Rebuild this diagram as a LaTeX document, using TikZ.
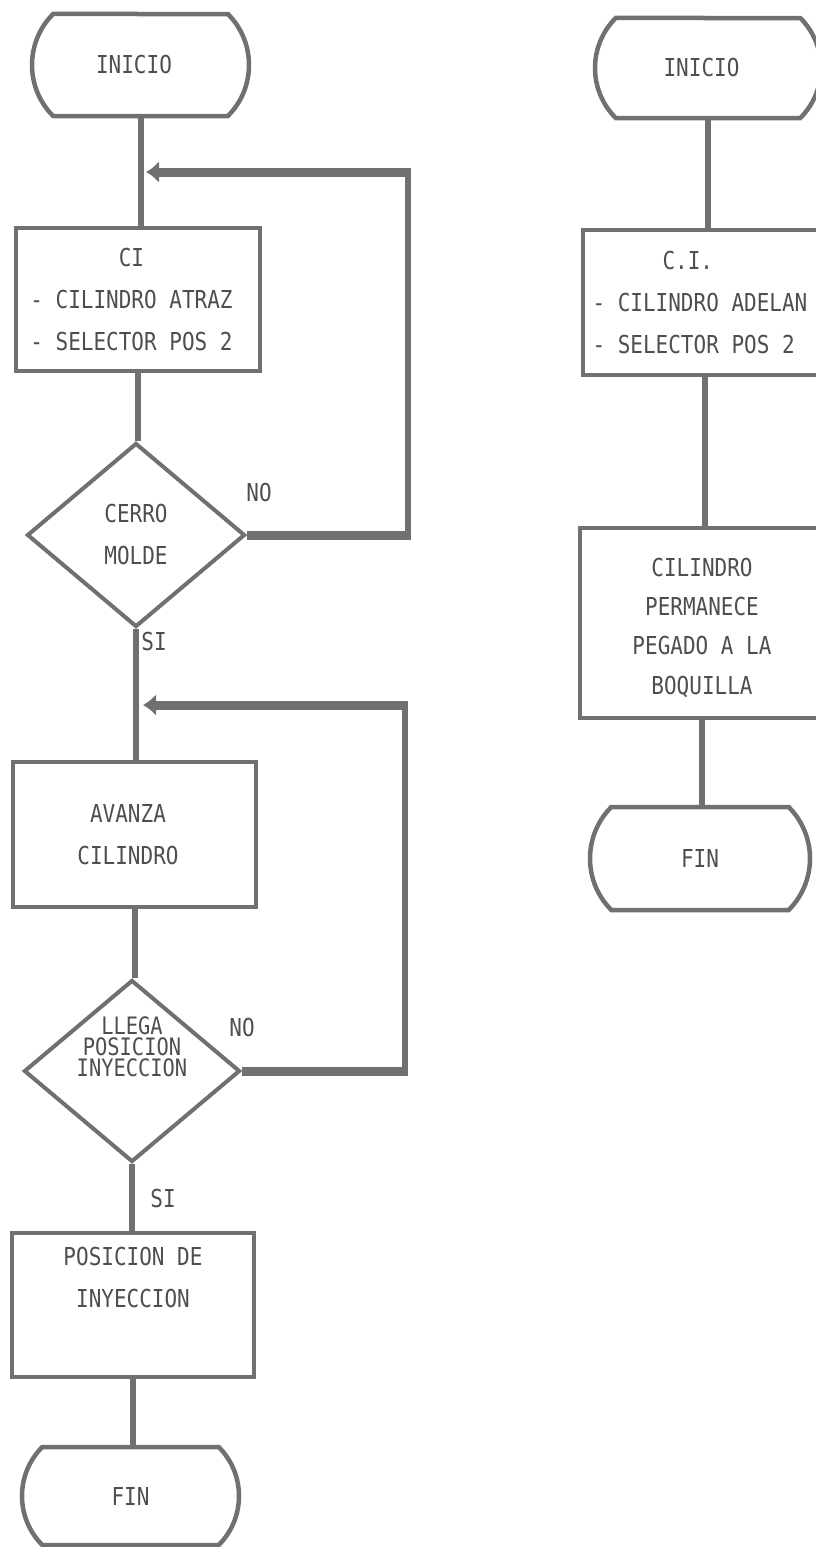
\documentclass[tikz,border=0pt]{standalone}
\usepackage{fontspec}
\newfontfamily\dotfont[FakeStretch=0.85]{DejaVu Sans Mono}
\usetikzlibrary{shapes.geometric,shapes.misc,arrows.meta}
\definecolor{ink}{HTML}{707070}
\definecolor{txt}{HTML}{4E4E4E}
% a line set a little left of the centre of its node
\newcommand\offl[1]{\hspace*{-13pt}#1}
% a left-aligned line of fixed width
\newcommand\fixl[1]{\makebox[225pt][l]{#1}}

\begin{document}
\begin{tikzpicture}[x=1pt,y=-1pt,
  every node/.style={font=\dotfont\fontsize{24.7}{42}\selectfont, text=txt},
  tight/.style={font=\dotfont\fontsize{24}{21}\selectfont, text=txt, align=center},
  procbox/.style={draw=ink, line width=4.5pt, rectangle, align=center, inner sep=0pt},
  term/.style={draw=ink, line width=4.5pt, rounded rectangle, rounded rectangle arc length=90, inner sep=0pt},
  decision/.style={draw=ink, line width=4pt, diamond, inner sep=0pt, align=center},
  flow/.style={draw=ink, line width=6pt},
  loopv/.style={draw=ink, line width=6pt},
  looph/.style={draw=ink, line width=9pt},
  back/.style={-{Latex[length=13pt,width=22pt]}},
  lbl/.style={inner sep=0pt}
]
\useasboundingbox (0,0) rectangle (815,1547);

% left chart
\node[term, minimum width=217, minimum height=102] (s1) at (140.5,65) {\offl{INICIO}};
\node[procbox, minimum width=244, minimum height=143] (b1) at (138,299.5)
  {\offl{CI}\\\offl{- CILINDRO ATRAZ}\\\offl{- SELECTOR POS 2}};
\node[decision, minimum width=218, minimum height=184] (d1) at (136,535) {CERRO\\MOLDE};
\node[procbox, minimum width=243, minimum height=145] (b2) at (134.5,834.5)
  {\offl{AVANZA}\\\offl{CILINDRO}};
\node[decision, minimum width=216, minimum height=182,
  label={[tight, yshift=24pt]center:{LLEGA\\POSICION\\INYECCION}}] (d2) at (132,1071) {};
\node[procbox, minimum width=242, minimum height=144] (b3) at (133,1305)
  {POSICION DE\\INYECCION\\\strut};
\node[term, minimum width=217, minimum height=98] (e1) at (130.5,1496) {FIN};

\draw[flow] (s1.south) -- (s1.south |- b1.north);
\draw[flow] (b1.south) -- (b1.south |- d1.north);
\draw[flow] (d1.south) -- (d1.south |- b2.north);
\draw[flow] (b2.south) -- (b2.south |- d2.north);
\draw[flow] (d2.south) -- (d2.south |- b3.north);
\draw[flow] (b3.south) -- (b3.south |- e1.north);

% return paths
\coordinate (c1) at (408,172);
\coordinate (t1) at (146,172);
\draw[loopv] (d1.east -| c1) -- (c1);
\draw[looph] (d1.east) -- ([xshift=3pt]d1.east -| c1);
\draw[looph, back] ([xshift=3pt]c1) -- (t1);

\coordinate (c2) at (405,705);
\coordinate (t2) at (143,705);
\draw[loopv] (d2.east -| c2) -- (c2);
\draw[looph] (d2.east) -- ([xshift=3pt]d2.east -| c2);
\draw[looph, back] ([xshift=3pt]c2) -- (t2);

\node[lbl] (no1) at (259,493) {NO};
\node[lbl] (si1) at (154,642) {SI};
\node[lbl] (no2) at (242,1027) {NO};
\node[lbl] (si2) at (163,1198) {SI};

% right chart
\node[term, minimum width=226, minimum height=100] (s2) at (708,68) {\offl{INICIO}};
\node[procbox, minimum width=244, minimum height=145, align=left] (r1) at (705,302.5)
  {\fixl{\hspace*{70pt}C.I.}\\\fixl{- CILINDRO ADELAN}\\\fixl{- SELECTOR POS 2}};
\node[procbox, minimum width=244, minimum height=190,
  font=\dotfont\fontsize{24.7}{39.3}\selectfont] (r2) at (702,623)
  {\strut\\[-39pt]CILINDRO\\PERMANECE\\PEGADO A LA\\BOQUILLA};
\node[term, minimum width=220, minimum height=103] (e2) at (700,858.5) {FIN};

\draw[flow] (s2.south) -- (s2.south |- r1.north);
\draw[flow] (r1.south) -- (r1.south |- r2.north);
\draw[flow] (r2.south) -- (r2.south |- e2.north);
\end{tikzpicture}
\end{document}
